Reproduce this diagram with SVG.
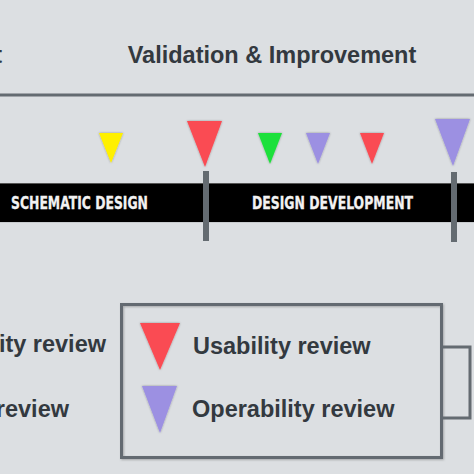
<svg xmlns="http://www.w3.org/2000/svg" width="474" height="474" viewBox="0 0 474 474">
<defs>
<style>
.title{font-family:"Liberation Sans",Arial,sans-serif;font-weight:bold;font-size:23.5px;fill:#33393f}
.band{font-family:"DejaVu Sans Condensed","DejaVu Sans",sans-serif;font-weight:bold;font-size:17.5px;fill:#f2f2f2;stroke:#f2f2f2;stroke-width:0.3}
.line{stroke:#646b71;fill:none;stroke-width:3}
.red{fill:#fa4b53}
.purple{fill:#9c90e2}
.yellow{fill:#fff000}
.green{fill:#1ee03a}
.bar{fill:#646b71}
</style>
<filter id="sh" x="-20%" y="-20%" width="140%" height="140%">
<feDropShadow dx="0" dy="0" stdDeviation="0.8" flood-color="#000" flood-opacity="0.35"/>
</filter>
<filter id="boxsh" x="-5%" y="-5%" width="110%" height="110%">
<feDropShadow dx="1" dy="1" stdDeviation="1" flood-color="#000" flood-opacity="0.25"/>
</filter>
</defs>
<rect x="0" y="0" width="474" height="474" fill="#dcdfe2"/>
<g id="header">
<text class="title" x="2" y="63" text-anchor="end">t</text>
<text class="title" x="272" y="63" text-anchor="middle">Validation &amp; Improvement</text>
<line class="line" x1="0" y1="95" x2="474" y2="95"/>
</g>
<g id="timeline">
<rect x="0" y="183" width="474" height="40" fill="#000"/>
<line x1="0" y1="183.5" x2="474" y2="183.5" stroke="#555" stroke-width="1"/>
<line x1="0" y1="222.5" x2="474" y2="222.5" stroke="#c8cbce" stroke-width="1"/>
<text class="band" x="11" y="209" textLength="137" lengthAdjust="spacingAndGlyphs">SCHEMATIC DESIGN</text>
<text class="band" x="252" y="209" textLength="161" lengthAdjust="spacingAndGlyphs">DESIGN DEVELOPMENT</text>
<rect class="bar" x="203" y="171" width="6" height="70"/>
<rect class="bar" x="451" y="172" width="6" height="70"/>
</g>
<g id="markers" filter="url(#sh)">
<polygon class="yellow" points="99,133 123,133 111,163"/>
<polygon class="red" points="187,121 222,121 205,167"/>
<polygon class="green" points="258,133 282,133 270,164"/>
<polygon class="purple" points="306,133 330,133 318,164"/>
<polygon class="red" points="360,133 384,133 372,164"/>
<polygon class="purple" points="435,119 470,119 453,166"/>
</g>
<g id="left-labels">
<text class="title" x="106" y="352" text-anchor="end">ity review</text>
<text class="title" x="69" y="417" text-anchor="end">review</text>
</g>
<g id="legend">
<rect class="line" x="121.5" y="304.5" width="320" height="153" fill="#dde0e3" filter="url(#boxsh)"/>
<polygon class="red" points="140,323 180,323 160,370" filter="url(#sh)"/>
<text class="title" x="193" y="354">Usability review</text>
<polygon class="purple" points="142,386 177,386 160,433" filter="url(#sh)"/>
<text class="title" x="192" y="417">Operability review</text>
</g>
<g id="connectors">
<polyline class="line" points="443,347 470,347 470,418 443,418"/>
</g>
</svg>
